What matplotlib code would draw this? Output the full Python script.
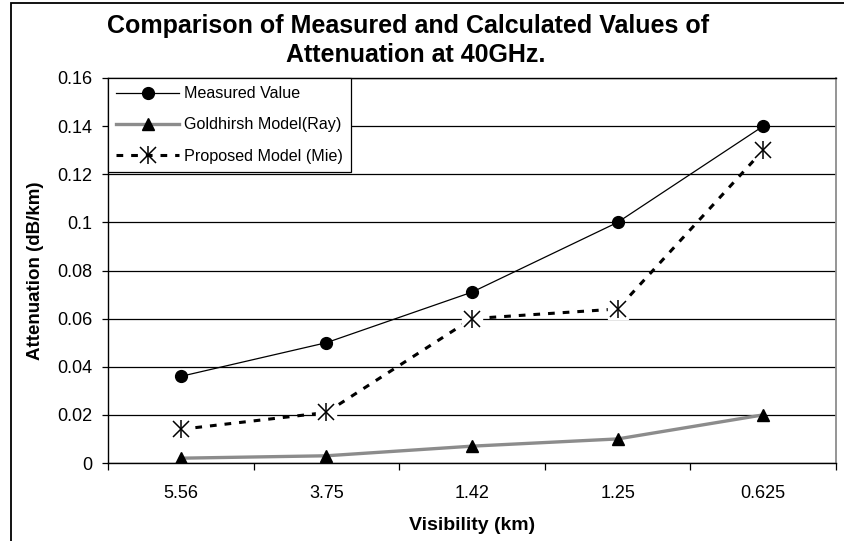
import numpy as np
import matplotlib
matplotlib.use("Agg")
import matplotlib.pyplot as plt
from matplotlib.lines import Line2D
from matplotlib.patches import Rectangle
from matplotlib.ticker import FuncFormatter

plt.rcParams['font.family'] = ['Liberation Sans', 'DejaVu Sans']

# данные
visibility = ['5.56', '3.75', '1.42', '1.25', '0.625']
measured = [0.036, 0.050, 0.071, 0.100, 0.140]
goldhirsh = [0.002, 0.003, 0.007, 0.010, 0.020]
proposed = [0.014, 0.021, 0.060, 0.064, 0.130]

W, H = 844, 541
fig = plt.figure(figsize=(W / 100, H / 100), dpi=100)

# рамка всей диаграммы
fig.patches.append(Rectangle((11 / W, -0.05), 1.2, (H - 3) / H + 0.05,
                             transform=fig.transFigure, fill=False,
                             edgecolor='black', linewidth=1.3))

ax = fig.add_axes([108 / W, (H - 463) / H, (836 - 108) / W, (463 - 78) / H])
x = np.arange(len(visibility))

ax.plot(x, measured, color='black', linewidth=0.9, marker='o',
        markersize=8.5, zorder=4)
ax.plot(x, goldhirsh, color='#8c8c8c', linewidth=2.4, marker='^',
        markersize=8, markerfacecolor='black', markeredgecolor='black', zorder=3)
ax.plot(x, proposed, color='black', linewidth=2.2, dashes=(2.2, 2.6), zorder=3)
# звездочки с белым фоном
ax.plot(x, proposed, linestyle='none', marker='s', markersize=15,
        markerfacecolor='white', markeredgecolor='white', zorder=4)
ax.plot(x, proposed, linestyle='none', marker='x', markersize=11,
        markeredgewidth=1.1, color='black', zorder=5)
ax.plot(x, proposed, linestyle='none', marker='|', markersize=13,
        markeredgewidth=1.1, color='black', zorder=5)

ax.set_xlim(-0.5, len(visibility) - 0.5)
ax.set_ylim(0, 0.16)
ax.set_yticks(np.arange(0, 0.161, 0.02))
ax.yaxis.set_major_formatter(FuncFormatter(lambda v, p: '%g' % round(v, 3)))
ax.grid(axis='y', color='black', linewidth=0.9)
ax.set_axisbelow(True)

ax.set_xticks(np.arange(-0.5, len(visibility), 1.0))
ax.set_xticklabels([])
ax.set_xticks(x, minor=True)
ax.set_xticklabels(visibility, minor=True)
ax.tick_params(axis='x', which='major', direction='out', length=5, width=0.9)
ax.tick_params(axis='x', which='minor', length=0, pad=16, labelsize=13)
ax.tick_params(axis='y', direction='out', length=4.5, width=0.9, pad=7,
               labelsize=13)

for s in ['left', 'bottom', 'top']:
    ax.spines[s].set_linewidth(1.0)
ax.spines['right'].set_color('#8c8c8c')
ax.spines['right'].set_linewidth(1.3)

ax.set_xlabel('Visibility (km)', fontsize=14, fontweight='bold', labelpad=11)
ax.set_ylabel('Attenuation (dB/km)', fontsize=13.5, fontweight='bold',
              labelpad=9)

fig.text(408 / W, 1 - 26 / H, 'Comparison of Measured and Calculated Values of',
         ha='center', va='center', fontsize=18, fontweight='bold')
fig.text(416 / W, 1 - 55 / H, 'Attenuation at 40GHz.',
         ha='center', va='center', fontsize=18, fontweight='bold')

h1 = Line2D([], [], color='black', linewidth=0.9, marker='o', markersize=8.5)
h2 = Line2D([], [], color='#8c8c8c', linewidth=2.4, marker='^', markersize=8,
            markerfacecolor='black', markeredgecolor='black')
h3a = Line2D([], [], color='black', linewidth=2.2, dashes=(2.2, 2.6))
h3b = Line2D([], [], linestyle='none', marker='x', markersize=11,
             markeredgewidth=1.1, color='black')
h3c = Line2D([], [], linestyle='none', marker='|', markersize=13,
             markeredgewidth=1.1, color='black')
leg = ax.legend([h1, h2, (h3a, h3b, h3c)],
                ['Measured Value', 'Goldhirsh Model(Ray)', 'Proposed Model (Mie)'],
                loc='upper left', bbox_to_anchor=(0.0, 1.0), borderaxespad=0,
                fontsize=11.6, handlelength=3.9, handletextpad=0.3,
                labelspacing=1.0, numpoints=1, fancybox=False,
                edgecolor='black', framealpha=1, borderpad=0.52)
leg.get_frame().set_linewidth(0.9)
leg.set_zorder(10)

fig.savefig('out.png', dpi=100)
